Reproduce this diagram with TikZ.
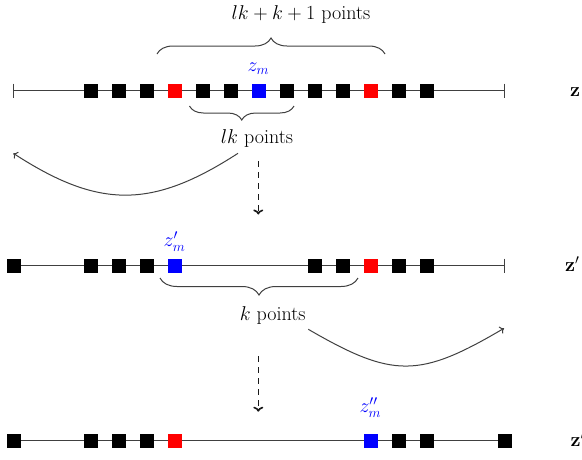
\RequirePackage{fix-cm}
\documentclass[tikz,border=0pt]{standalone}
\usetikzlibrary{decorations.pathreplacing,arrows.meta}
\begin{document}
\begin{tikzpicture}[x=1pt,y=-1pt,
  every node/.style={inner sep=0pt, outer sep=0pt},
  txt/.style={font=\fontsize{20}{24}\selectfont},
  sq/.style={minimum size=14pt, fill=#1, draw=none},
  sq/.default=black,
  axisline/.style={draw=black!75, line width=1pt},
  brc/.style={draw=black!75, line width=1pt, decorate, decoration={brace, amplitude=#1}},
  bendarrow/.style={draw=black!75, line width=1pt, -{To[length=4pt,width=8pt]}},
  dsh/.style={draw=black!90, line width=1.6pt, dash pattern=on 6pt off 5pt, -{To[length=5pt,width=10pt]}},
]
\useasboundingbox (0,0) rectangle (582,459);

% ---------- row 1 ----------
\coordinate (r1L) at (13.5,90.7);
\coordinate (r1R) at (504.5,90.7);
\draw[axisline] (r1L) -- (r1R);
\draw[axisline] ([yshift=7pt]r1L) -- ([yshift=-7pt]r1L);
\draw[axisline] ([yshift=7pt]r1R) -- ([yshift=-7pt]r1R);
\foreach \i/\c in {0/black,1/black,2/black,3/red,4/black,5/black,6/blue,7/black,8/black,9/black,10/red,11/black,12/black}
  \node[sq=\c] (a\i) at ({91+28*\i},90.7) {};

% ---------- row 2 ----------
\coordinate (r2L) at (13.5,265.7);
\coordinate (r2R) at (504.5,265.7);
\draw[axisline] (r2L) -- (r2R);
\draw[axisline] ([yshift=7pt]r2R) -- ([yshift=-7pt]r2R);
\node[sq] (b0) at (r2L) {};
\foreach \i/\c in {0/black,1/black,2/black,3/blue,8/black,9/black,10/red,11/black,12/black}
  \node[sq=\c] (b\i x) at ({91+28*\i},265.7) {};

% ---------- row 3 ----------
\coordinate (r3L) at (13.5,440.7);
\coordinate (r3R) at (504.5,440.7);
\draw[axisline] (r3L) -- (r3R);
\node[sq] (c0) at (r3L) {};
\node[sq] (cR) at (r3R) {};
\foreach \i/\c in {0/black,1/black,2/black,3/red,10/blue,11/black,12/black}
  \node[sq=\c] (c\i x) at ({91+28*\i},440.7) {};

% ---------- braces ----------
\coordinate (br1a) at (157,54);   \coordinate (br1b) at (385,54);
\coordinate (br2a) at (294,106);  \coordinate (br2b) at (189.5,106);
\coordinate (br3a) at (358,278);  \coordinate (br3b) at (160,278);
\draw[brc=16pt] (br1a) -- (br1b);
\draw[brc=14pt] (br2a) -- (br2b);
\draw[brc=17pt] (br3a) -- (br3b);

% ---------- texts ----------
\node[txt, anchor=base] (t1) at (301,19.5) {$lk+k+1$ points};
\node[txt, anchor=base] (t2) at (257,143.3) {$lk$ points};
\node[txt, anchor=base] (t3) at (272.7,320) {$k$ points};

\node[txt, anchor=base, text=blue] (zm)  at (258.4,71.7) {$z_m$};
\node[txt, anchor=base, text=blue] (zm1) at (174.5,246.7) {$z'_m$};
\node[txt, anchor=base, text=blue] (zm2) at (370.3,412.7) {$z''_m$};

\node[txt, anchor=base west] (L1) at (570,96.7) {$\mathbf{z}$};
\node[txt, anchor=base west] (L2) at (565,271.7) {$\mathbf{z}'$};
\node[txt, anchor=base west] (L3) at (570.7,446.7) {$\mathbf{z}''$};

% ---------- curved arrows ----------
\coordinate (p1s) at (238,153.3);
\coordinate (p1e) at (13.3,153.3);
\draw[bendarrow] (p1s) .. controls (152,209) and (99,209) .. (p1e);
\coordinate (p2s) at (308.3,329.3);
\coordinate (p2e) at (504,328.3);
\draw[bendarrow] (p2s) .. controls (393,378.4) and (419,378.4) .. (p2e);

% ---------- dashed arrows ----------
\coordinate (d1s) at (258.3,161);
\coordinate (d1e) at (258.3,214.5);
\coordinate (d2s) at (258.3,356);
\coordinate (d2e) at (258.3,411.7);
\draw[dsh] (d1s) -- (d1e);
\draw[dsh] (d2s) -- (d2e);
\end{tikzpicture}
\end{document}
